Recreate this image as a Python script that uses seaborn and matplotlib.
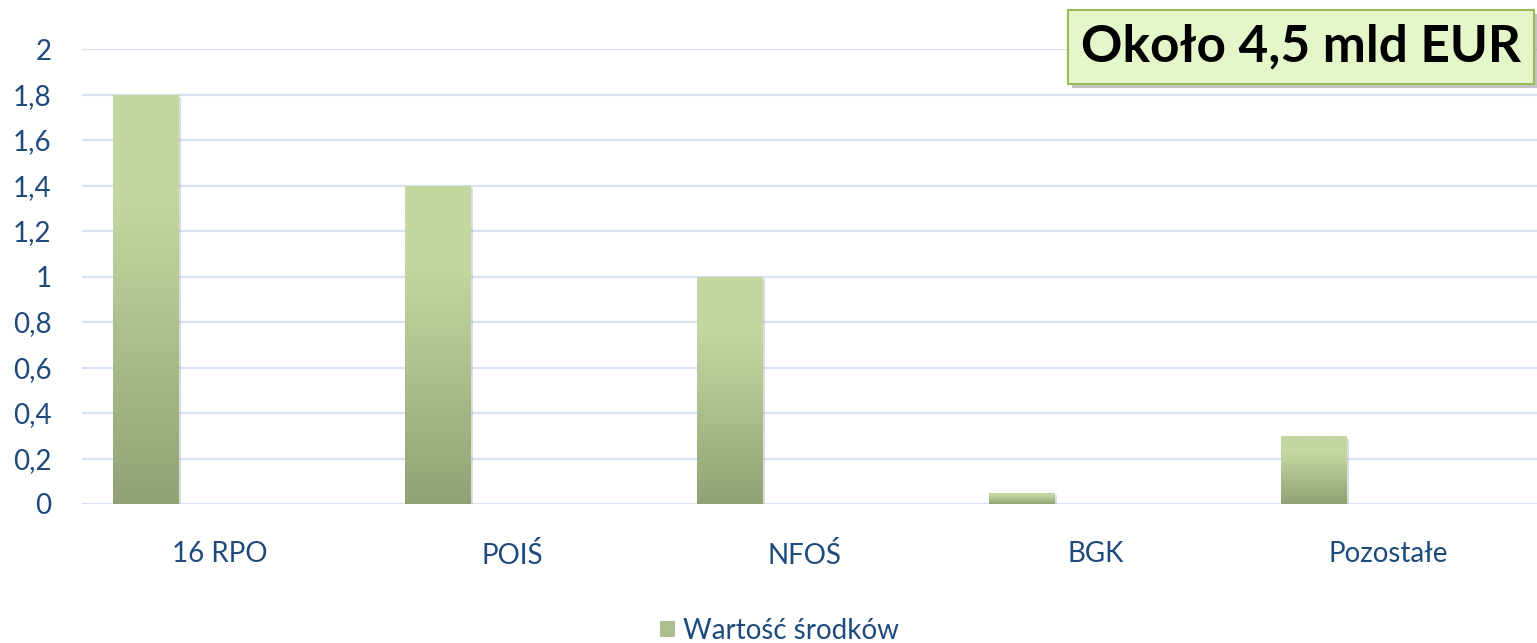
import numpy as np
import pandas as pd
import seaborn as sns
import matplotlib.pyplot as plt
from matplotlib import patheffects as pe
from matplotlib.patches import Patch

# dane
kategorie = ['16 RPO', 'POIŚ', 'NFOŚ', 'BGK', 'Pozostałe']
wartosci = [1.8, 1.4, 1.0, 0.05, 0.3]
y_ticks = [0, 0.2, 0.4, 0.6, 0.8, 1.0, 1.2, 1.4, 1.6, 1.8, 2.0]
y_etykiety = ['0', '0,2', '0,4', '0,6', '0,8', '1', '1,2', '1,4', '1,6', '1,8', '2']
seria = 'Wartość środków'
napis = 'Około 4,5 mld EUR'

df = pd.DataFrame({'kategoria': kategorie, 'wartosc': wartosci})

sns.set_theme(style='white')
plt.rcParams['font.family'] = ['Lato', 'DejaVu Sans']

niebieski = '#1f4a7c'
jasny = np.array([196, 215, 161]) / 255
ciemny = np.array([146, 162, 117]) / 255

fig = plt.figure(figsize=(15.37, 6.43), dpi=100)
ax = fig.add_axes([82 / 1537, 1 - 504 / 643, 1 - 82 / 1537, (504 - 49) / 643])

sns.barplot(data=df, x='kategoria', y='wartosc', color='#adbd8b', width=0.225,
            ax=ax, zorder=3)

# przesunięcie słupków w lewo (jak w wykresie Excela) + gradient
grad = np.linspace(0, 1, 256)
grad = np.clip((grad - 0.25) / 0.75, 0, 1)
img = (jasny[None, :] * (1 - grad[:, None]) + ciemny[None, :] * grad[:, None])
img = img[:, None, :]
for p in ax.patches:
    p.set_x(p.get_x() - 0.255)
    p.set_linewidth(0)
    p.set_path_effects([pe.SimplePatchShadow(offset=(2, -2), shadow_rgbFace='#777777', alpha=0.25),
                        pe.Normal()])
    x0, w, h = p.get_x(), p.get_width(), p.get_height()
    im = ax.imshow(img, extent=[x0, x0 + w, 0, h], aspect='auto', zorder=4,
                   origin='upper')
    im.set_clip_path(p)

ax.set_xlim(-0.473, 4.51)
ax.set_ylim(0, 2)
ax.set_yticks(y_ticks)
ax.set_yticklabels(y_etykiety)
ax.grid(axis='y', color='#d6e2f2', linewidth=1.6, zorder=0)
ax.grid(axis='x', visible=False)
for s in ax.spines.values():
    s.set_visible(False)
ax.tick_params(axis='y', length=0, pad=22, labelsize=20, labelcolor=niebieski)
ax.tick_params(axis='x', length=0, pad=27, labelsize=20, labelcolor=niebieski)
ax.set_xlabel('')
ax.set_ylabel('')

# legenda
uchwyt = Patch(facecolor='#adbd8b', edgecolor='none', label=seria)
fig.legend(handles=[uchwyt], loc='center', bbox_to_anchor=(0.507, 0.019),
           frameon=False, fontsize=20, labelcolor=niebieski,
           handlelength=0.55, handleheight=0.55, handletextpad=0.3)

# ramka z podsumowaniem
t = fig.text(1301 / 1537, 1 - 47 / 643, napis, ha='center', va='center',
             fontsize=37, fontweight='bold', color='black',
             bbox=dict(boxstyle='square,pad=0.26', facecolor='#e5f7c8',
                       edgecolor='#9bbb59', linewidth=1.5))
t.get_bbox_patch().set_path_effects([
    pe.SimplePatchShadow(offset=(3, -3), shadow_rgbFace='#555555', alpha=0.35),
    pe.Normal()])

plt.savefig('out.png', dpi=100)
